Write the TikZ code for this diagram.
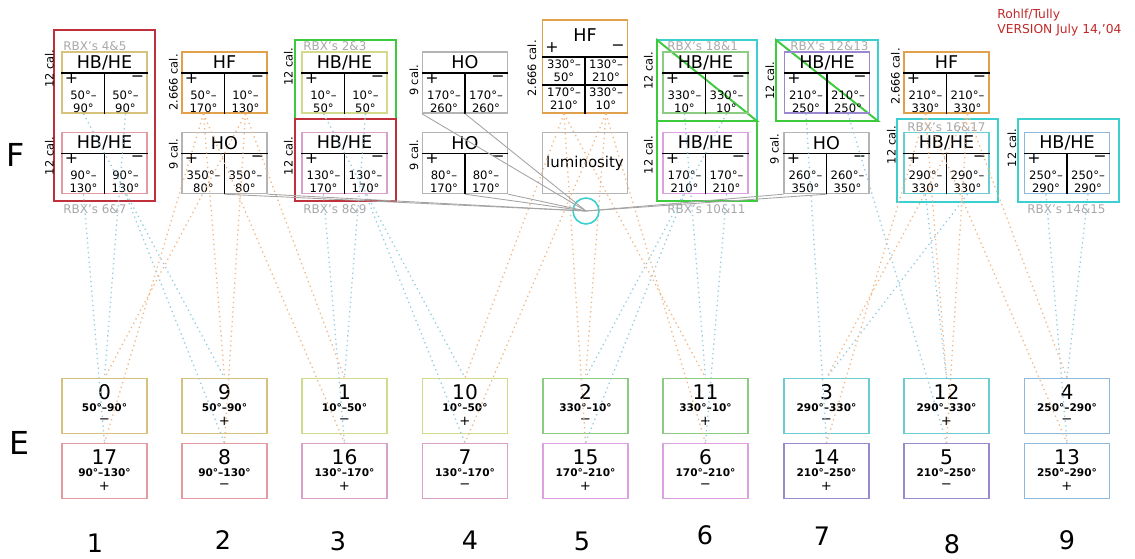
\documentclass[tikz,border=0pt]{standalone}
\usepackage{fontspec}
\setmainfont{DejaVu Sans}
\usepackage{tikz}
\usetikzlibrary{calc}
\definecolor{rbx-red}{HTML}{C0303A}
\definecolor{rbx-green}{HTML}{3CCB3C}
\definecolor{rbx-cyan}{HTML}{3CCFCF}
\definecolor{rbx-text}{HTML}{A8A8A8}
\definecolor{hb-khaki}{HTML}{D6C27C}
\definecolor{hb-rose}{HTML}{E39AA0}
\definecolor{hb-lime}{HTML}{D2DA8C}
\definecolor{hb-pink}{HTML}{D9A0C8}
\definecolor{hb-green}{HTML}{8CCB82}
\definecolor{hb-orchid}{HTML}{DDA0E0}
\definecolor{hb-purple}{HTML}{9A88D0}
\definecolor{hb-cyan}{HTML}{6CCCD4}
\definecolor{hb-blue}{HTML}{8FB8DA}
\definecolor{hf-orange}{HTML}{E0A04C}
\definecolor{ho-grey}{HTML}{B4B4B4}
\definecolor{ver-red}{HTML}{C02828}
\definecolor{wire-blue}{HTML}{96CCE0}
\definecolor{wire-orange}{HTML}{EFB886}
\definecolor{lum-grey}{HTML}{A4A4A4}

% front-end box with + and - halves
\newcommand{\twocell}[7]{%
  \node[fbox, draw=#4] (#1) at (#2,#3) {};
  \node[ftitle] at ($(#1)+(0,-20)$) {#5};
  \draw[thick] ($(#1.west)+(0,-9.5)$) -- ($(#1.east)+(0,-9.5)$);
  \draw[thick] ($(#1)+(0,-9.5)$) -- (#1.south);
  \node[sgn] at ($(#1)+(-33,-4)$) {+};
  \node[sgn] at ($(#1)+(33,-4)$) {−};
  \node[cell] at ($(#1)+(-21,19)$) {#6};
  \node[cell] at ($(#1)+(21,19)$) {#7};
}
% readout box on the E side
\newcommand{\ecard}[7]{%
  \node[ebox, draw=#4] (#1) at (#2,#3) {};
  \node[enum] at ($(#1)+(0,-14)$) {#5};
  \node[erange] at ($(#1)+(0,2)$) {#6};
  \node[esgn] at ($(#1)+(0,15)$) {#7};
}

\begin{document}
\begin{tikzpicture}[x=0.02cm, y=-0.02cm,
    fbox/.style={rectangle, minimum width=1.7cm, minimum height=1.22cm, inner sep=0pt, line width=0.8pt},
    ftitle/.style={font=\fontsize{10}{10}\selectfont, inner sep=0pt},
    sgn/.style={font=\fontsize{9}{9}\selectfont, inner sep=0pt},
    esgn/.style={font=\fontsize{7.5}{7.5}\selectfont, inner sep=0pt},
    cell/.style={font=\fontsize{6.6}{7.4}\selectfont, align=center, inner sep=0pt},
    cal/.style={font=\fontsize{6.5}{6.5}\selectfont, rotate=90, inner sep=0pt},
    rbx/.style={font=\fontsize{6.8}{6.8}\selectfont, text=rbx-text, anchor=west, inner sep=0pt},
    ebox/.style={rectangle, minimum width=1.7cm, minimum height=1.1cm, inner sep=0pt, line width=0.7pt},
    enum/.style={font=\fontsize{11.5}{11.5}\selectfont, inner sep=0pt},
    erange/.style={font=\fontsize{6}{6}\selectfont\bfseries, inner sep=0pt},
    colnum/.style={font=\fontsize{14.5}{14.5}\selectfont, inner sep=0pt},
    hbwire/.style={wire-blue, dotted, line width=0.75pt},
    hfwire/.style={wire-orange, dotted, line width=0.75pt},
    lumwire/.style={lum-grey, line width=0.5pt},
    grp/.style={line width=1.1pt}]

    \useasboundingbox (0,0) rectangle (1135,558);

    % Version tag
    \node[anchor=west, text=ver-red, font=\fontsize{7}{8.5}\selectfont, align=left, inner sep=0pt] (ver) at (997,23) {Rohlf/Tully\\VERSION July 14,'04};

    % Row letters
    \node[font=\fontsize{18}{18}\selectfont] (rowF) at (16,155) {F};
    \node[font=\fontsize{18}{18}\selectfont] (rowE) at (19,443) {E};

    % RBX groupings
    \draw[grp, rbx-red] (54,30) rectangle (155,201);
    \draw[grp, rbx-green] (295,40) rectangle (396,119);
    \draw[grp, rbx-red] (295,119) rectangle (396,201);
    \draw[grp, rbx-cyan] (657,40) -- (757,40) -- (757,121);
    \draw[grp, rbx-green] (757,121) -- (657,121) -- (657,40) -- cycle;
    \draw[grp, rbx-green] (657,121) rectangle (757,201);
    \draw[grp, rbx-cyan] (776,40) -- (878,40) -- (878,121);
    \draw[grp, rbx-green] (878,121) -- (776,121) -- (776,40) -- cycle;
    \draw[grp, rbx-cyan] (897,119) rectangle (998,202);
    \draw[grp, rbx-cyan] (1018,119) rectangle (1119,202);

    \node[rbx] (rbx45) at (63,46) {RBX's 4\&5};
    \node[rbx] (rbx67) at (63,209) {RBX's 6\&7};
    \node[rbx] (rbx23) at (303,46) {RBX's 2\&3};
    \node[rbx] (rbx89) at (303,209) {RBX's 8\&9};
    \node[rbx] (rbx01) at (667,46) {RBX's 18\&1};
    \node[rbx] (rbx1011) at (667,209) {RBX's 10\&11};
    \node[rbx] (rbx1213) at (790,46) {RBX's 12\&13};
    \node[rbx] (rbx1617) at (907,127) {RBX's 16\&17};
    \node[rbx] (rbx1415) at (1027,209) {RBX's 14\&15};

    % F side: upper row
    \twocell{hbA}{104.5}{82.5}{hb-khaki}{HB/HE}{50°–\\90°}{50°–\\90°}
    \twocell{hfA}{224.5}{82.5}{hf-orange}{HF}{50°–\\170°}{10°–\\130°}
    \twocell{hbC}{344.5}{82.5}{hb-lime}{HB/HE}{10°–\\50°}{10°–\\50°}
    \twocell{hoB}{465}{82.5}{ho-grey}{HO}{170°–\\260°}{170°–\\260°}
    \twocell{hbE}{705.5}{82.5}{hb-green}{HB/HE}{330°–\\10°}{330°–\\10°}
    \twocell{hbG}{827}{82.5}{hb-purple}{HB/HE}{210°–\\250°}{210°–\\250°}
    \twocell{hfC}{946.5}{82.5}{hf-orange}{HF}{210°–\\330°}{210°–\\330°}

    % HF with four cells
    \node[fbox, draw=hf-orange, minimum height=1.86cm] (hfB) at (585,66.5) {};
    \node[ftitle] at ($(hfB)+(0,-31.5)$) {HF};
    \node[sgn] at ($(hfB)+(-33,-18.5)$) {+};
    \node[sgn] at ($(hfB)+(33,-18.5)$) {−};
    \draw[thick] ($(hfB.west)+(0,-9.5)$) -- ($(hfB.east)+(0,-9.5)$);
    \draw[thick] ($(hfB.west)+(0,18.5)$) -- ($(hfB.east)+(0,18.5)$);
    \draw[thick] ($(hfB)+(0,-9.5)$) -- (hfB.south);
    \node[cell] at ($(hfB)+(-21,4.5)$) {330°–\\50°};
    \node[cell] at ($(hfB)+(21,4.5)$) {130°–\\210°};
    \node[cell] at ($(hfB)+(-21,32.5)$) {170°–\\210°};
    \node[cell] at ($(hfB)+(21,32.5)$) {330°–\\10°};

    % F side: lower row
    \twocell{hbB}{104.5}{163}{hb-rose}{HB/HE}{90°–\\130°}{90°–\\130°}
    \twocell{hoA}{224.5}{163}{ho-grey}{HO}{350°–\\80°}{350°–\\80°}
    \twocell{hbD}{344.5}{163}{hb-pink}{HB/HE}{130°–\\170°}{130°–\\170°}
    \twocell{hoC}{465}{163}{ho-grey}{HO}{80°–\\170°}{80°–\\170°}
    \node[fbox, draw=ho-grey, font=\fontsize{8.5}{8.5}\selectfont] (lum) at (585,163) {luminosity};
    \twocell{hbF}{705.5}{163}{hb-orchid}{HB/HE}{170°–\\210°}{170°–\\210°}
    \twocell{hoD}{826.5}{163}{ho-grey}{HO}{260°–\\350°}{260°–\\350°}
    \twocell{hbH}{946.5}{163}{hb-cyan}{HB/HE}{290°–\\330°}{290°–\\330°}
    \twocell{hbI}{1067}{163}{hb-blue}{HB/HE}{250°–\\290°}{250°–\\290°}

    % Calibration labels
    \node[cal] at ($(hbA.west)+(-12,-14)$) {12 cal.};
    \node[cal] at ($(hbB.west)+(-12,-7)$) {12 cal.};
    \node[cal] at ($(hfA.west)+(-8,0)$) {2.666 cal.};
    \node[cal] at ($(hoA.west)+(-8,-9)$) {9 cal.};
    \node[cal] at ($(hbC.west)+(-13,-16)$) {12 cal.};
    \node[cal] at ($(hbD.west)+(-13,-7)$) {12 cal.};
    \node[cal] at ($(hoB.west)+(-8,-2)$) {9 cal.};
    \node[cal] at ($(hoC.west)+(-8,-8)$) {9 cal.};
    \node[cal] at ($(hfB.west)+(-10,2)$) {2.666 cal.};
    \node[cal] at ($(hbE.west)+(-14,-12)$) {12 cal.};
    \node[cal] at ($(hbF.west)+(-14,-8)$) {12 cal.};
    \node[cal] at ($(hbG.west)+(-14,-2)$) {12 cal.};
    \node[cal] at ($(hoD.west)+(-9,-14)$) {9 cal.};
    \node[cal] at ($(hfC.west)+(-8,-6)$) {2.666 cal.};
    \node[cal] at ($(hbH.west)+(-12,-18)$) {12 cal.};
    \node[cal] at ($(hbI.west)+(-12,-15)$) {12 cal.};

    % E side: readout boxes
    \ecard{e0}{104.5}{406}{hb-khaki}{0}{50°–90°}{−}
    \ecard{e9}{224.5}{406}{hb-khaki}{9}{50°–90°}{+}
    \ecard{e1}{344.5}{406}{hb-lime}{1}{10°–50°}{−}
    \ecard{e10}{465}{406}{hb-lime}{10}{10°–50°}{+}
    \ecard{e2}{585.5}{406}{hb-green}{2}{330°–10°}{−}
    \ecard{e11}{705.5}{406}{hb-green}{11}{330°–10°}{+}
    \ecard{e3}{826.5}{406}{hb-cyan}{3}{290°–330°}{−}
    \ecard{e12}{946.5}{406}{hb-cyan}{12}{290°–330°}{+}
    \ecard{e4}{1067}{406}{hb-blue}{4}{250°–290°}{−}
    \ecard{e17}{104.5}{471}{hb-rose}{17}{90°–130°}{+}
    \ecard{e8}{224.5}{471}{hb-rose}{8}{90°–130°}{−}
    \ecard{e16}{344.5}{471}{hb-pink}{16}{130°–170°}{+}
    \ecard{e7}{465}{471}{hb-pink}{7}{130°–170°}{−}
    \ecard{e15}{585.5}{471}{hb-orchid}{15}{170°–210°}{+}
    \ecard{e6}{705.5}{471}{hb-orchid}{6}{170°–210°}{−}
    \ecard{e14}{826.5}{471}{hb-purple}{14}{210°–250°}{+}
    \ecard{e5}{946.5}{471}{hb-purple}{5}{210°–250°}{−}
    \ecard{e13}{1067}{471}{hb-blue}{13}{250°–290°}{+}

    % Column numbers
    \foreach \n/\x/\y in {1/95/543, 2/223/540, 3/338/541, 4/470/540, 5/582/541,
                          6/705/535, 7/822/536, 8/952/544, 9/1067/540}
        \node[colnum] (col\n) at (\x,\y) {\n};

    % HB/HE fibres
    \foreach \src/\dx/\dst in {hbA/-21/e9, hbA/21/e0, hbB/-21/e17, hbB/21/e8,
                               hbC/-21/e10, hbC/21/e1, hbD/-21/e16, hbD/21/e7,
                               hbE/-21/e11, hbE/21/e2, hbF/-21/e15, hbF/21/e6,
                               hbG/-21/e14, hbG/21/e5, hbH/-21/e12, hbH/21/e3,
                               hbI/-21/e13, hbI/21/e4}
        \draw[hbwire] ($(\src.south)+(\dx,0)$) -- (\dst.north);

    % HF fibres
    \foreach \src/\dx/\dst in {hfA/-21/e9, hfA/-21/e17, hfA/-21/e16,
                               hfA/21/e1, hfA/21/e0, hfA/21/e8,
                               hfB/-21/e11, hfB/-21/e10, hfB/-21/e15,
                               hfB/21/e7, hfB/21/e6, hfB/21/e2,
                               hfC/-21/e14, hfC/-21/e13, hfC/-21/e12,
                               hfC/21/e5, hfC/21/e4, hfC/21/e3}
        \draw[hfwire] ($(\src.south)+(\dx,0)$) -- (\dst.north);

    % Luminosity pick-off
    \node[circle, draw=rbx-cyan, line width=0.9pt, minimum size=0.52cm, inner sep=0pt] (junc) at (586,211) {};
    \foreach \src/\anc in {hoA/south, hoA/south east, hoB/south west, hoB/south,
                           hoC/south, hoC/south east, hoD/south west, hoD/south}
        \draw[lumwire] (\src.\anc) -- (junc.center);

\end{tikzpicture}
\end{document}
